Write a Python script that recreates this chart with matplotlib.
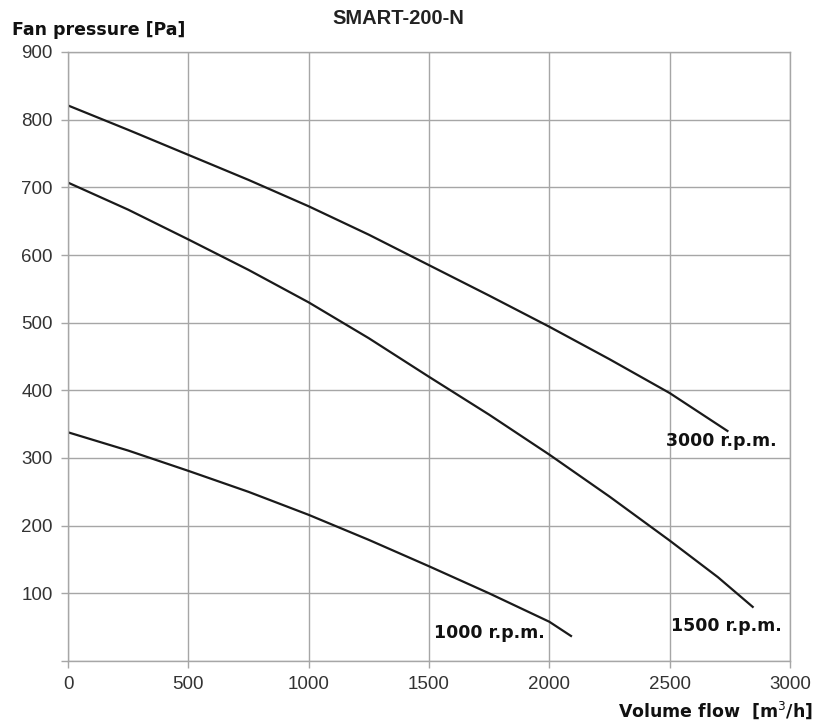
import numpy as np
import matplotlib.pyplot as plt

# Curvas del ventilador SMART-200-N
caudal_3000 = [0, 250, 500, 750, 1000, 1250, 1500, 1750, 2000, 2250, 2500, 2740]
presion_3000 = [821, 785, 748, 711, 672, 630, 585, 540, 494, 446, 396, 340]

caudal_1500 = [0, 250, 500, 750, 1000, 1250, 1500, 1750, 2000, 2250, 2500, 2700, 2845]
presion_1500 = [707, 667, 623, 578, 530, 477, 420, 364, 305, 243, 178, 124, 80]

caudal_1000 = [0, 250, 500, 750, 1000, 1250, 1500, 1750, 2000, 2090]
presion_1000 = [338, 311, 281, 250, 216, 179, 140, 100, 58, 37]

xticks = [0, 500, 1000, 1500, 2000, 2500, 3000]
yticks = [0, 100, 200, 300, 400, 500, 600, 700, 800, 900]
ytick_labels = [''] + [str(v) for v in yticks[1:]]

gris = '#a6a6a6'

fig = plt.figure(figsize=(8.16, 7.24), dpi=100)
ax = fig.add_axes([68/816, 1 - 661/724, (790 - 68)/816, (661 - 52)/724])

ax.plot(caudal_3000, presion_3000, color='#1a1a1a', lw=1.6)
ax.plot(caudal_1500, presion_1500, color='#1a1a1a', lw=1.6)
ax.plot(caudal_1000, presion_1000, color='#1a1a1a', lw=1.6)

ax.set_xlim(0, 3000)
ax.set_ylim(0, 900)
ax.set_xticks(xticks)
ax.set_yticks(yticks)
ax.set_yticklabels(ytick_labels)
ax.grid(True, color=gris, lw=1)
ax.set_axisbelow(True)
for s in ax.spines.values():
    s.set_color(gris)
    s.set_linewidth(1)
ax.tick_params(colors=gris, length=5, width=1, labelcolor='#333333',
               labelsize=13.5, pad=6)
for lab in ax.get_xticklabels() + ax.get_yticklabels():
    lab.set_family('Liberation Sans')

# etiquetas de las curvas
etiqueta = dict(fontsize=12.5, fontweight='bold', family='DejaVu Sans Condensed',
                va='center', ha='left', color='#111111')
ax.text(2485, 325, '3000 r.p.m.', **etiqueta)
ax.text(2505, 52, '1500 r.p.m.', **etiqueta)
ax.text(1520, 41, '1000 r.p.m.', **etiqueta)

fig.text(398/816, 1 - 18/724, 'SMART-200-N', ha='center', va='center',
         fontsize=14.5, fontweight='bold', family='Liberation Sans', color='#222222')
fig.text(12/816, 1 - 30/724, 'Fan pressure [Pa]', ha='left', va='center',
         fontsize=12.5, fontweight='bold', family='DejaVu Sans Condensed', color='#111111')
fig.text(813/816, 1 - 710/724, 'Volume flow  [m$^3$/h]', ha='right', va='center',
         fontsize=12.5, fontweight='bold', family='DejaVu Sans Condensed', color='#111111')

fig.savefig('out.png', dpi=100, facecolor='white')
